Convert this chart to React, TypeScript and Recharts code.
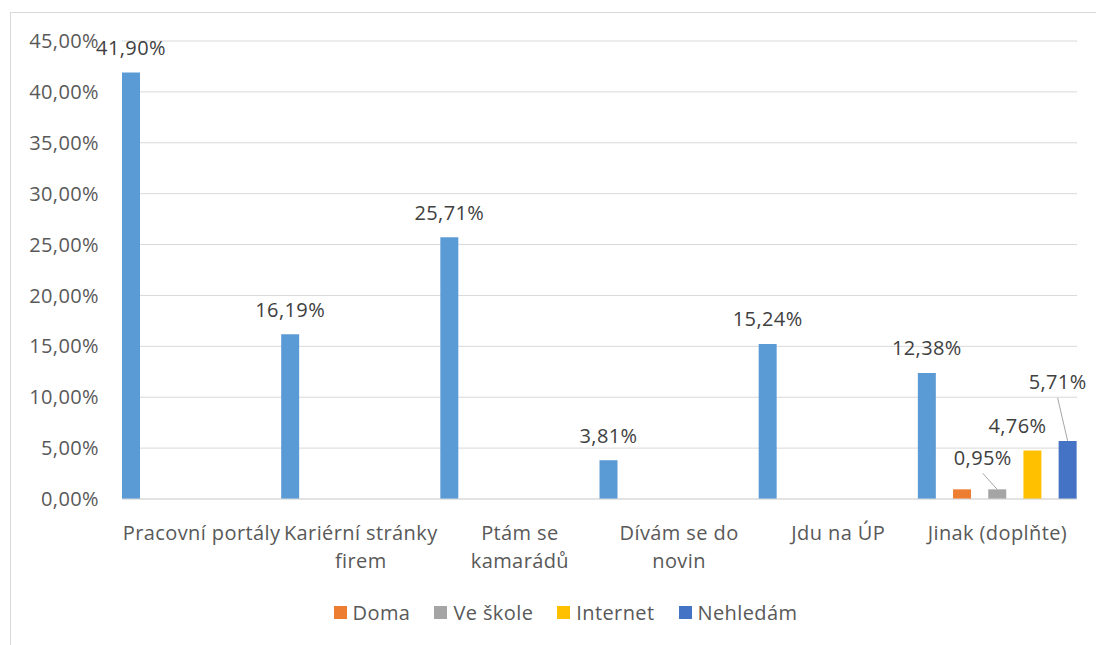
import React from 'react';
import { BarChart, Bar, XAxis, YAxis, CartesianGrid, Legend, LabelList } from 'recharts';

// chart values (percent)
const CATEGORIES = ['Pracovní portály', 'Kariérní stránky firem', 'Ptám se kamarádů', 'Dívám se do novin', 'Jdu na ÚP', 'Jinak (doplňte)'];
const TICK_LINES = [['Pracovní portály'], ['Kariérní stránky', 'firem'], ['Ptám se', 'kamarádů'], ['Dívám se do', 'novin'], ['Jdu na ÚP'], ['Jinak (doplňte)']];
const MAIN = [41.9, 16.19, 25.71, 3.81, 15.24, 12.38];
const DOMA = [null, null, null, null, null, 0.95];
const SKOLA = [null, null, null, null, null, 0.95];
const INTERNET = [null, null, null, null, null, 4.76];
const NEHLEDAM = [null, null, null, null, null, 5.71];
const Y_TICKS = [0, 5, 10, 15, 20, 25, 30, 35, 40, 45];

const data = CATEGORIES.map((name, i) => ({
  name,
  main: MAIN[i],
  doma: DOMA[i],
  skola: SKOLA[i],
  internet: INTERNET[i],
  nehledam: NEHLEDAM[i],
}));

const LEGEND_ITEMS = [
  { label: 'Doma', color: '#ED7D31' },
  { label: 'Ve škole', color: '#A5A5A5' },
  { label: 'Internet', color: '#FFC000' },
  { label: 'Nehledám', color: '#4472C4' },
];

const fmt = (v: number) => v.toFixed(2).replace('.', ',') + '%';

const CategoryTick = (props: any) => {
  const { x, y, index } = props;
  const lines = TICK_LINES[index] || [];
  return (
    <g>
      {lines.map((t, i) => (
        <text key={i} x={x} y={y + 33 + i * 28.5} textAnchor="middle" dominantBaseline="central" fill="#595959" fontSize={20}>
          {t}
        </text>
      ))}
    </g>
  );
};

// dx/dy: label centre relative to bar top centre
const makeLabel = (dx: number, dy: number, leader: boolean) => (props: any) => {
  const { x, y, width, value } = props;
  if (value == null) return null;
  const cx = Number(x) + Number(width) / 2;
  const lx = cx + dx;
  const ly = Number(y) + dy;
  return (
    <g>
      {leader && <line x1={lx} y1={ly + 16} x2={cx} y2={Number(y)} stroke="#A6A6A6" strokeWidth={1} />}
      <text x={lx} y={ly} textAnchor="middle" dominantBaseline="central" fill="#404040" fontSize={20}>
        {fmt(Number(value))}
      </text>
    </g>
  );
};

const LegendContent = () => (
  <div style={{ display: 'flex', justifyContent: 'center', alignItems: 'center', gap: 24, fontSize: 20, color: '#595959', height: 27 }}>
    {LEGEND_ITEMS.map((it) => (
      <div key={it.label} style={{ display: 'flex', alignItems: 'center' }}>
        <span style={{ display: 'inline-block', width: 13, height: 13, background: it.color, marginRight: 6 }} />
        <span>{it.label}</span>
      </div>
    ))}
  </div>
);

export default function App() {
  return (
    <div
      style={{
        position: 'fixed',
        left: 10,
        top: 12,
        width: 1090,
        height: 640,
        borderTop: '1px solid #D9D9D9',
        borderLeft: '1px solid #D9D9D9',
        overflow: 'hidden',
        background: '#fff',
        fontFamily: "'Open Sans', sans-serif",
        letterSpacing: '0.4px',
      }}
    >
      <BarChart
        width={1109}
        height={633}
        data={data}
        margin={{ top: 28, right: 43, bottom: 0, left: 0 }}
        barCategoryGap={0}
        barGap={17.2}
        barSize={18}
      >
        <CartesianGrid vertical={false} stroke="#D9D9D9" />
        <XAxis
          dataKey="name"
          height={147}
          tickLine={false}
          tickSize={0}
          tickMargin={0}
          axisLine={{ stroke: '#D9D9D9' }}
          interval={0}
          tick={<CategoryTick />}
        />
        <YAxis
          width={111}
          domain={[0, 45]}
          ticks={Y_TICKS}
          tickFormatter={fmt}
          axisLine={false}
          tickLine={false}
          tickSize={0}
          tickMargin={23}
          tick={{ fill: '#595959', fontSize: 20 }}
        />
        <Legend verticalAlign="middle" align="center" wrapperStyle={{ top: 586, left: 0, width: 1109 }} content={<LegendContent />} />
        <Bar dataKey="main" name="Řada1" fill="#5B9BD5" isAnimationActive={false} legendType="none">
          <LabelList dataKey="main" content={makeLabel(0, -25, false)} />
        </Bar>
        <Bar dataKey="doma" name="Doma" fill="#ED7D31" isAnimationActive={false} />
        <Bar dataKey="skola" name="Ve škole" fill="#A5A5A5" isAnimationActive={false}>
          <LabelList dataKey="skola" content={makeLabel(-14.5, -32, true)} />
        </Bar>
        <Bar dataKey="internet" name="Internet" fill="#FFC000" isAnimationActive={false}>
          <LabelList dataKey="internet" content={makeLabel(-15, -25, false)} />
        </Bar>
        <Bar dataKey="nehledam" name="Nehledám" fill="#4472C4" isAnimationActive={false}>
          <LabelList dataKey="nehledam" content={makeLabel(-10, -59, true)} />
        </Bar>
      </BarChart>
    </div>
  );
}
